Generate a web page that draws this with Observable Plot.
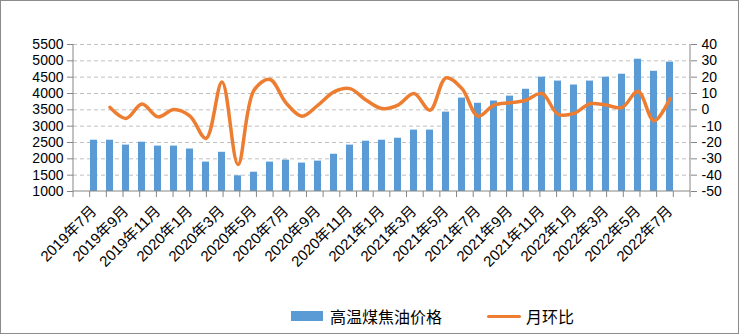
<!DOCTYPE html>
<html>
<head>
<meta charset="utf-8">
<script src="https://cdn.jsdelivr.net/npm/d3@7"></script>
<script src="https://cdn.jsdelivr.net/npm/@observablehq/plot@0.6"></script>
<style>
body{margin:0;background:#fff;}
#wrap{position:relative;width:739px;height:334px;overflow:hidden;background:#fff;font-family:"Liberation Sans","Noto Sans CJK SC",sans-serif;}
#border{position:absolute;left:0;top:0;width:739px;height:334px;box-sizing:border-box;border:1px solid #8c8c8c;pointer-events:none;}
#legend{position:absolute;left:291px;top:304px;height:24px;display:flex;align-items:center;font-size:16px;color:#000;font-family:"Noto Sans CJK SC",sans-serif;}
#legend .sw{display:inline-block;width:32px;height:10px;background:#5B9BD5;margin-right:7px;}
#legend .ln{display:inline-block;width:34px;height:3px;background:#ED7D31;border-radius:2px;margin-left:45px;margin-right:5px;}
</style>
</head>
<body>
<div id="wrap">
  <div id="chart"></div>
  <div id="legend"><span class="sw"></span><span>高温煤焦油价格</span><span class="ln"></span><span>月环比</span></div>
  <div id="border"></div>
</div>
<script>
const months = ["2019年7月","2019年8月","2019年9月","2019年10月","2019年11月","2019年12月",
  "2020年1月","2020年2月","2020年3月","2020年4月","2020年5月","2020年6月",
  "2020年7月","2020年8月","2020年9月","2020年10月","2020年11月","2020年12月",
  "2021年1月","2021年2月","2021年3月","2021年4月","2021年5月","2021年6月",
  "2021年7月","2021年8月","2021年9月","2021年10月","2021年11月","2021年12月",
  "2022年1月","2022年2月","2022年3月","2022年4月","2022年5月","2022年6月","2022年7月"];
const price = [2570,2570,2420,2510,2390,2390,2300,1900,2200,1480,1590,1900,1960,1870,1930,2140,2420,2540,
  2570,2630,2880,2880,3430,3860,3700,3770,3920,4130,4500,4380,4260,4380,4500,4590,5050,4680,4960];
const mom = [null,1.5,-5.3,3.5,-4.3,0.2,-3.9,-17.5,17.1,-33.5,12,18.6,4.3,-3.9,2.9,11,13,6,
  0.8,2.9,10,-0.2,19.6,13,-3.9,2.9,4.3,5.9,10,-2.7,-2.2,3.7,2.9,1.4,11.4,-6.7,6.9];
const leftTicks = [1000,1500,2000,2500,3000,3500,4000,4500,5000,5500];
const rightTicks = [-50,-40,-30,-20,-10,0,10,20,30,40];

const toL = v => 1000 + (v + 50) * 50;
const fromL = d => Math.round((d - 1000) / 50 - 50);

const data = months.map((m, i) => ({month: m, price: price[i], mom: mom[i]}));
const lineData = data.filter(d => d.mom != null);

const W = 739, H = 300, mL = 73, mR = 49, mT = 44, mB = 109;

const axisLines = (index, scales, values, dim) => {
  const g = d3.create("svg:g").attr("stroke", "#868686").attr("stroke-width", 1).attr("fill", "none");
  const left = dim.marginLeft, right = dim.width - dim.marginRight;
  const top = dim.marginTop, bottom = dim.height - dim.marginBottom;
  const n = months.length, step = (right - left) / n;
  g.append("line").attr("x1", left).attr("x2", left).attr("y1", top).attr("y2", bottom);
  g.append("line").attr("x1", right).attr("x2", right).attr("y1", top).attr("y2", bottom);
  g.append("line").attr("x1", left).attr("x2", right).attr("y1", bottom).attr("y2", bottom);
  for (let i = 0; i <= n; i++) {
    const x = left + i * step;
    g.append("line").attr("x1", x).attr("x2", x).attr("y1", bottom).attr("y2", bottom + 6);
  }
  return g.node();
};

const chart = Plot.plot({
  width: W, height: H,
  marginLeft: mL, marginRight: mR, marginTop: mT, marginBottom: mB,
  style: {fontFamily: '"Liberation Sans","Noto Sans CJK SC",sans-serif', fontSize: "14px", color: "#000", background: "#fff"},
  x: {type: "band", domain: months, paddingInner: 0.58, paddingOuter: 0.29, label: null},
  y: {domain: [1000, 5500], label: null},
  marks: [
    Plot.gridY(leftTicks.filter(d => d > 1000), {stroke: "#bfbfbf", strokeOpacity: 1, strokeDasharray: "4,3"}),
    Plot.barY(data, {x: "month", y1: 1000, y2: "price", fill: "#5B9BD5"}),
    Plot.lineY(lineData, {x: "month", y: d => toL(d.mom), curve: "catmull-rom", stroke: "#ED7D31", strokeWidth: 3.5, strokeLinecap: "round", strokeLinejoin: "round"}),
    axisLines,
    Plot.axisY(leftTicks, {anchor: "left", tickSize: 6, tickPadding: 4, stroke: "#868686", tickFormat: d => String(d), label: null, fontSize: 14}),
    Plot.axisY(rightTicks.map(toL), {anchor: "right", tickSize: 6, tickPadding: 5, stroke: "#868686", tickFormat: d => String(fromL(d)), label: null, fontSize: 14}),
    Plot.axisX(months.filter((d, i) => i % 2 === 0), {anchor: "bottom", tickSize: 0, tickPadding: 17, tickRotate: -45, label: null, fontSize: 15})
  ]
});
document.getElementById("chart").appendChild(chart);
</script>
</body>
</html>
